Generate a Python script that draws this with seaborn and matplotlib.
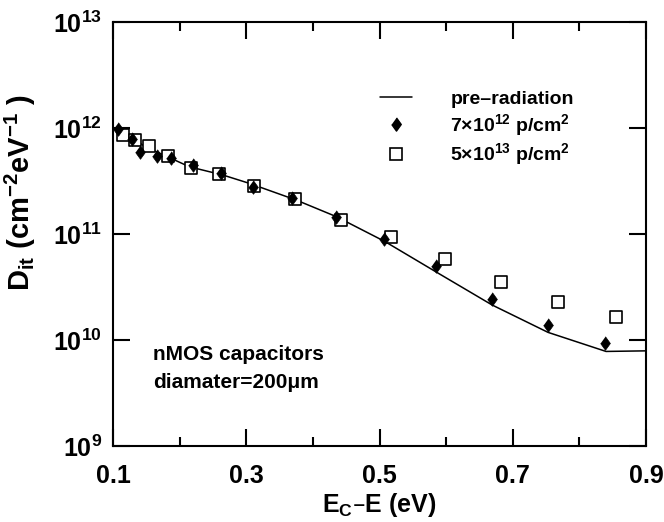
import numpy as np
import pandas as pd
import matplotlib
matplotlib.use("Agg")
import matplotlib.pyplot as plt
import seaborn as sns
from matplotlib import font_manager
from matplotlib.lines import Line2D
from matplotlib.legend_handler import HandlerLine2D
from matplotlib.ticker import FixedLocator, FuncFormatter

# valores (E_C - E em eV, D_it em cm^-2 eV^-1)
x_pre = [0.105, 0.15, 0.215, 0.265, 0.305, 0.375, 0.435, 0.508, 0.59, 0.669, 0.753, 0.84, 0.9]
d_pre = [9.8e11, 6.6e11, 4.3e11, 3.6e11, 3.0e11, 2.09e11, 1.46e11, 8.5e10, 4.2e10, 2.14e10, 1.18e10, 7.8e9, 7.9e9]

x_7e12 = [0.108, 0.129, 0.1405, 0.1665, 0.187, 0.2205, 0.2617, 0.3106, 0.368, 0.434, 0.507, 0.585, 0.669, 0.753, 0.839]
d_7e12 = [9.7e11, 7.8e11, 6.0e11, 5.45e11, 5.25e11, 4.48e11, 3.74e11, 2.76e11, 2.17e11, 1.46e11, 8.97e10, 4.99e10, 2.44e10, 1.39e10, 9.3e9]

x_5e13 = [0.1146, 0.133, 0.1545, 0.183, 0.217, 0.2596, 0.3116, 0.373, 0.442, 0.518, 0.598, 0.682, 0.768, 0.855]
d_5e13 = [8.6e11, 7.7e11, 6.77e11, 5.45e11, 4.17e11, 3.68e11, 2.84e11, 2.12e11, 1.36e11, 9.27e10, 5.8e10, 3.5e10, 2.3e10, 1.64e10]

x_ticks = [0.1, 0.3, 0.5, 0.7, 0.9]
x_minor = [0.2, 0.4, 0.6, 0.8]
y_ticks = [1e9, 1e10, 1e11, 1e12, 1e13]


def escolher_fonte(nomes):
    for nome in nomes:
        try:
            font_manager.findfont(font_manager.FontProperties(family=nome, weight="bold"),
                                  fallback_to_default=False)
            return nome
        except ValueError:
            continue
    return "DejaVu Sans"


class MarcadorEsquerda(HandlerLine2D):
    # marcador no lado esquerdo da área do símbolo, como no original
    def get_xdata(self, legend, xdescent, ydescent, width, height, fontsize):
        xdata = [-xdescent, -xdescent + width]
        return xdata, [-xdescent + 0.05 * width]


sns.set_theme(style="ticks")
fonte = escolher_fonte(["Liberation Sans Narrow", "Arial Narrow", "Liberation Sans", "Arial"])
plt.rcParams["font.family"] = [fonte, "DejaVu Sans"]
plt.rcParams["font.weight"] = "bold"
plt.rcParams["mathtext.default"] = "regular"
for chave in ["text.color", "axes.labelcolor", "xtick.color", "ytick.color", "axes.edgecolor"]:
    plt.rcParams[chave] = "black"

df_pre = pd.DataFrame({"x": x_pre, "y": d_pre})
df_a = pd.DataFrame({"x": x_7e12, "y": d_7e12})
df_b = pd.DataFrame({"x": x_5e13, "y": d_5e13})

fig = plt.figure(figsize=(6.64, 5.22), dpi=100)
ax = fig.add_axes([113 / 664, 1 - 446 / 522, (646 - 113) / 664, (446 - 22) / 522])

diamante = [(0, 1), (0.72, 0), (0, -1), (-0.72, 0)]

sns.lineplot(data=df_pre, x="x", y="y", ax=ax, color="black", linewidth=1.1,
             legend=False, sort=False)
sns.scatterplot(data=df_a, x="x", y="y", ax=ax, marker=diamante, s=95,
                color="black", edgecolor="black", linewidth=0.5, legend=False, zorder=3)
sns.scatterplot(data=df_b, x="x", y="y", ax=ax, marker="s", s=75,
                facecolor="white", edgecolor="black", linewidth=1.2, legend=False, zorder=2)

ax.set_yscale("log")
ax.set_xlim(0.1, 0.9)
ax.set_ylim(1e9, 1e13)

ax.xaxis.set_major_locator(FixedLocator(x_ticks))
ax.xaxis.set_minor_locator(FixedLocator(x_minor))
ax.xaxis.set_major_formatter(FuncFormatter(lambda v, p: f"{v:.1f}"))
ax.yaxis.set_major_locator(FixedLocator(y_ticks))
ax.yaxis.set_minor_locator(FixedLocator([]))
ax.yaxis.set_major_formatter(FuncFormatter(lambda v, p: r"$10^{%d}$" % round(np.log10(v))))

ax.tick_params(which="both", direction="in", top=True, right=True, width=1.5, color="black")
ax.tick_params(which="major", length=12)
ax.tick_params(which="minor", length=6.5)
ax.tick_params(axis="x", which="major", pad=13, labelsize=18)
ax.tick_params(axis="y", which="major", pad=8, labelsize=18)
for lab in ax.get_xticklabels() + ax.get_yticklabels():
    lab.set_fontweight("bold")
for s in ax.spines.values():
    s.set_linewidth(1.5)
    s.set_color("black")

ax.set_xlabel(r"$E_C$–E (eV)", fontsize=18, fontweight="bold", labelpad=2)
ax.set_ylabel(r"$D_{it}$ (cm$^{-2}$eV$^{-1}$ )", fontsize=21, fontweight="bold")
ax.yaxis.set_label_coords(-0.14, 0.597)

ax.text(0.075, 0.215, "nMOS capacitors", transform=ax.transAxes, fontsize=15,
        fontweight="bold", va="center")
ax.text(0.075, 0.149, "diamater=200μm", transform=ax.transAxes, fontsize=15,
        fontweight="bold", va="center")

handles = [
    Line2D([], [], color="black", linewidth=1.1),
    Line2D([], [], color="black", marker=diamante, markersize=9.5, linestyle="none"),
    Line2D([], [], color="black", marker="s", markersize=8.6, markerfacecolor="white",
           markeredgewidth=1.2, linestyle="none"),
]
rotulos = ["pre–radiation", r"7×10$^{12}$ p/cm$^{2}$", r"5×10$^{13}$ p/cm$^{2}$"]
ax.legend(handles, rotulos, loc="upper left", bbox_to_anchor=(0.5, 0.839), frameon=False,
          handlelength=1.65, handletextpad=2.0, labelspacing=0.2, borderpad=0,
          borderaxespad=0, prop={"weight": "bold", "size": 14},
          handler_map={Line2D: MarcadorEsquerda(numpoints=1)})

fig.savefig("out.png", dpi=100)
